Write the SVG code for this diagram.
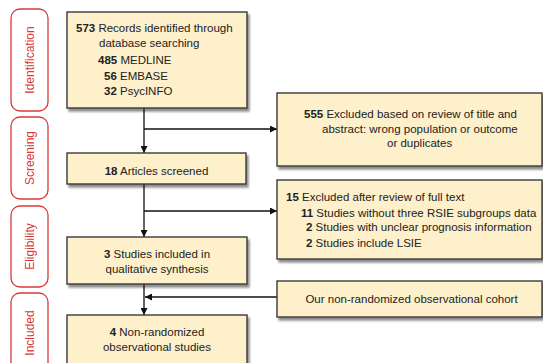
<svg xmlns="http://www.w3.org/2000/svg" width="543" height="363" viewBox="0 0 543 363">
<defs>
<filter id="sh" x="-10%" y="-10%" width="130%" height="140%">
<feGaussianBlur in="SourceAlpha" stdDeviation="1.2"/>
<feOffset dx="2" dy="2.5" result="o"/>
<feComponentTransfer><feFuncA type="linear" slope="0.45"/></feComponentTransfer>
<feMerge><feMergeNode/><feMergeNode in="SourceGraphic"/></feMerge>
</filter>
<marker id="ah" viewBox="0 0 10 10" refX="10" refY="5" markerWidth="7" markerHeight="7" markerUnits="userSpaceOnUse" orient="auto">
<path d="M0,0 L10,5 L0,10 z" fill="#111"/>
</marker>
</defs>
<style>
.box{fill:#fdf0cb;stroke:#3a3a3a;stroke-width:1.4}
.side{fill:#fff;stroke:#d9383a;stroke-width:1.3}
.t{font-family:"Liberation Sans",Arial,sans-serif;font-size:11.5px;fill:#222}
.c{text-anchor:middle}
.b{font-weight:bold}
.st{font-family:"Liberation Sans",Arial,sans-serif;font-size:12px;fill:#d9383a;text-anchor:middle}
.ln{stroke:#111;stroke-width:1.3;fill:none}
</style>
<rect width="543" height="363" fill="#fff"/>

<g id="stage-identification">
<rect class="side" x="11" y="9" width="37" height="102" rx="9"/>
<text class="st" transform="translate(33.5,60) rotate(-90)">Identification</text>
</g>
<g id="stage-screening">
<rect class="side" x="11" y="117" width="37" height="82" rx="9"/>
<text class="st" transform="translate(33.5,158) rotate(-90)">Screening</text>
</g>
<g id="stage-eligibility">
<rect class="side" x="11" y="206" width="37" height="81" rx="9"/>
<text class="st" transform="translate(33.5,246.5) rotate(-90)">Eligibility</text>
</g>
<g id="stage-included">
<rect class="side" x="11" y="293" width="37" height="90" rx="9"/>
<text class="st" transform="translate(33.5,333) rotate(-90)">Included</text>
</g>

<g id="connectors">
<line class="ln" x1="144" y1="108" x2="144" y2="153" marker-end="url(#ah)"/>
<line class="ln" x1="144" y1="129" x2="277" y2="129" marker-end="url(#ah)"/>
<line class="ln" x1="144" y1="184" x2="144" y2="237" marker-end="url(#ah)"/>
<line class="ln" x1="144" y1="211" x2="277" y2="211" marker-end="url(#ah)"/>
<line class="ln" x1="144" y1="284" x2="144" y2="315" marker-end="url(#ah)"/>
<line class="ln" x1="277" y1="297" x2="145" y2="297" marker-end="url(#ah)"/>
</g>

<g id="records">
<rect class="box" filter="url(#sh)" x="67" y="12" width="180" height="96"/>
<text class="t" x="76" y="32"><tspan class="b">573</tspan> Records identified through</text>
<text class="t" x="99" y="47">database searching</text>
<text class="t" x="98" y="64"><tspan class="b">485</tspan> MEDLINE</text>
<text class="t" x="104" y="80"><tspan class="b">56</tspan> EMBASE</text>
<text class="t" x="104" y="95"><tspan class="b">32</tspan> PsycINFO</text>
</g>

<g id="excluded-title">
<rect class="box" filter="url(#sh)" x="277" y="93" width="265" height="73"/>
<text class="t" x="304" y="118"><tspan class="b">555</tspan> Excluded based on review of title and</text>
<text class="t" x="322" y="133">abstract: wrong population or outcome</text>
<text class="t" x="387" y="147">or duplicates</text>
</g>

<g id="screened">
<rect class="box" filter="url(#sh)" x="67" y="153" width="179" height="31"/>
<text class="t c" x="156.5" y="175"><tspan class="b">18</tspan> Articles screened</text>
</g>

<g id="excluded-fulltext">
<rect class="box" filter="url(#sh)" x="277" y="180" width="265" height="79"/>
<text class="t" x="286" y="201"><tspan class="b">15</tspan> Excluded after review of full text</text>
<text class="t" x="301" y="217"><tspan class="b">11</tspan> Studies without three RSIE subgroups data</text>
<text class="t" x="306" y="231"><tspan class="b">2</tspan> Studies with unclear prognosis information</text>
<text class="t" x="306" y="247"><tspan class="b">2</tspan> Studies include LSIE</text>
</g>

<g id="included-qualitative">
<rect class="box" filter="url(#sh)" x="67" y="237" width="180" height="47"/>
<text class="t c" x="157" y="258"><tspan class="b">3</tspan> Studies included in</text>
<text class="t c" x="157" y="273">qualitative synthesis</text>
</g>

<g id="cohort">
<rect class="box" filter="url(#sh)" x="277" y="281" width="265" height="36"/>
<text class="t c" x="411.5" y="303">Our non-randomized observational cohort</text>
</g>

<g id="nonrandomized">
<rect class="box" filter="url(#sh)" x="67" y="315" width="180" height="60"/>
<text class="t c" x="157" y="336"><tspan class="b">4</tspan> Non-randomized</text>
<text class="t c" x="157" y="351">observational studies</text>
</g>
</svg>
